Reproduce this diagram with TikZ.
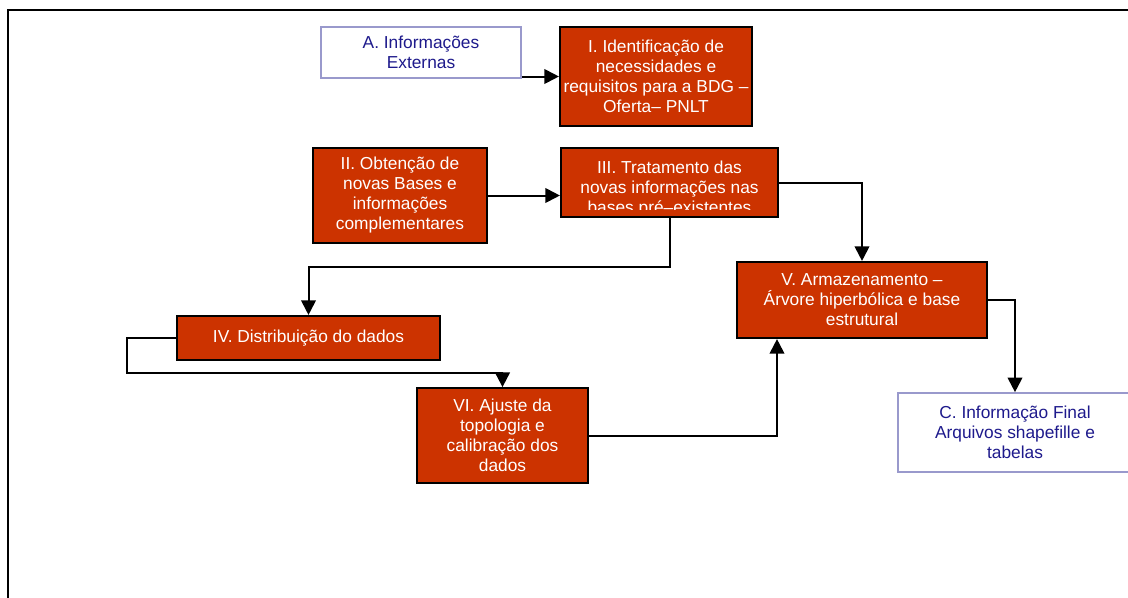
\documentclass[tikz,border=0pt]{standalone}
\usepackage{fontspec}
\setmainfont{Liberation Sans}
\usetikzlibrary{arrows.meta,positioning}
\usetikzlibrary{calc}
\definecolor{box_red}{HTML}{CC3300}
\definecolor{ext_border}{HTML}{9999CC}
\definecolor{ext_text}{HTML}{1E1A8C}

\begin{document}
\begin{tikzpicture}[
	    x=0.75pt, y=-0.75pt,
	    boxfont/.style={font=\fontsize{13}{15}\selectfont},
	    redbox/.style={rectangle, draw=black, line width=1.6pt, fill=box_red, text=white, align=center, inner sep=0pt, boxfont},
	    extbox/.style={rectangle, draw=ext_border, line width=1.5pt, fill=white, text=ext_text, align=center, inner sep=0pt, boxfont},
	    onlytext/.style={align=center, text=white, inner sep=0pt, boxfont},
	    normalline/.style={-{Triangle[length=11pt, width=11pt]}, line width=1.5pt},
	]
	\useasboundingbox (0,0) rectangle (1128,597);
	\draw [line width=1.3pt] (8,10) rectangle (1145,615);

	% External input
	\node[extbox, minimum width=150pt, minimum height=38pt] (extA) at (421,52.5) {A. Informações\\Externas};
	\node[redbox, minimum width=144pt, minimum height=74pt] (ident) at (656,76.5) {I. Identificação de\\necessidades e\\requisitos para a BDG –\\Oferta– PNLT};

	% New bases
	\node[redbox, minimum width=130.5pt, minimum height=71pt] (bases) at (400,195.5) {II. Obtenção de\\novas Bases e\\informações\\complementares};
	\node[redbox, minimum width=162.75pt, minimum height=51.75pt] (trat) at (669.5,182.5) {};
	\begin{scope}
	    \clip (trat.north west) rectangle ($(trat.south east)+(0,-9)$);
	    \node[onlytext] (tratlabel) at ($(trat.center)+(0,7)$) {III. Tratamento das\\novas informações nas\\bases pré–existentes};
	\end{scope}

	% Distribution and adjustment
	\node[redbox, minimum width=197.25pt, minimum height=33pt] (distr) at (308.5,338) {IV. Distribuição do dados};
	\node[redbox, minimum width=128.25pt, minimum height=71pt] (ajuste) at (502.5,435.5) {VI. Ajuste da\\topologia e\\calibração dos\\dados};

	% Storage and output
	\node[redbox, minimum width=187.5pt, minimum height=57pt] (armaz) at (862,300) {V. Armazenamento –\\Árvore hiperbólica e base\\estrutural};
	\node[extbox, minimum width=176pt, minimum height=59pt] (final) at (1015,432.5) {C. Informação Final\\Arquivos shapefille e\\tabelas};

	\coordinate (ajustein) at ($(ajuste.north)+(0,-14)$);
	\coordinate (armazin) at ($(armaz.south)+(-85,0)$);

	% connection lines
	\draw [normalline] (ident.west -| extA.east) -- (ident.west);
	\draw [normalline] (bases.east) -- (bases.east -| trat.west);
	\draw [normalline] (trat.east) -| (armaz.north);
	\draw [normalline] (trat.south) -- ++(0,49) -| (distr.north);
	\draw [normalline] (distr.west) -- ++(-49,0) |- (ajustein) -- (ajuste.north);
	\draw [normalline] (ajuste.east) -| (armazin);
	\draw [normalline] (armaz.east) -| (final.north);

	\end{tikzpicture}
\end{document}
